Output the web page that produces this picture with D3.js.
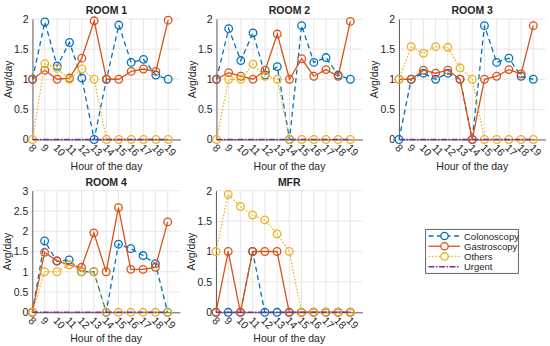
<!DOCTYPE html>
<html><head><meta charset="utf-8">
<script src="https://cdn.jsdelivr.net/npm/d3@7/dist/d3.min.js"></script>
<style>
body{margin:0;background:#fff;}
text{font-family:"Liberation Sans",Arial,Helvetica,sans-serif;fill:#262626;}
</style></head>
<body>
<svg id="chart" width="550" height="346"></svg>
<script>
const hours = [8,9,10,11,12,13,14,15,16,17,18,19];
const roomTitles = ["ROOM 1","ROOM 2","ROOM 3","ROOM 4","MFR"];
const seriesNames = ["Colonoscopy","Gastroscopy","Others","Urgent"];
const yMaxes = [2,2,2,3,2];

const colonoscopy = [
  [1.0,1.95,1.22,1.61,1.02,0.0,1.0,1.9,1.28,1.33,1.07,1.0],
  [1.0,1.84,1.31,1.77,1.07,1.21,0.0,1.89,1.28,1.36,1.07,1.0],
  [0.0,1.0,1.1,1.0,1.1,1.0,0.0,1.89,1.28,1.35,1.05,1.0],
  [0.0,1.76,1.26,1.29,1.0,1.0,0.0,1.68,1.57,1.4,1.2,0.0],
  [0.0,0.0,0.0,1.0,0.0,0.0,0.0,0.0,0.0,0.0,0.0,0.0]
];
const gastroscopy = [
  [1.0,1.15,1.0,1.02,1.35,1.97,1.0,1.0,1.13,1.17,1.13,1.98],
  [1.0,1.11,1.05,1.0,1.15,1.75,1.0,1.34,1.05,1.16,1.05,1.96],
  [1.0,1.0,1.15,1.1,1.15,1.0,0.0,1.0,1.05,1.16,1.09,1.89],
  [0.0,1.48,1.27,1.17,1.11,1.96,1.0,2.58,1.06,1.06,1.11,2.23],
  [0.0,1.0,0.0,1.0,1.0,1.0,0.0,0.0,0.0,0.0,0.0,0.0]
];
const others = [
  [0.0,1.26,1.18,1.0,1.17,1.0,0.0,0.0,0.0,0.0,0.0,0.0],
  [0.0,1.0,1.0,1.25,1.05,1.0,0.0,0.0,0.0,0.0,0.0,0.0],
  [1.0,1.54,1.43,1.54,1.53,1.19,1.0,0.0,0.0,0.0,0.0,0.0],
  [0.0,1.0,1.0,1.17,1.0,1.0,0.0,0.0,0.0,0.0,0.0,0.0],
  [1.0,1.94,1.74,1.6,1.52,1.29,1.0,0.0,0.0,0.0,0.0,0.0]
];
const urgent = [
  [0,0,0,0,0,0,0,0,0,0,0,0],
  [0,0,0,0,0,0,0,0,0,0,0,0],
  [0,0,0,0,0,0,0,0,0,0,0,0],
  [0,0,0,0,0,0,0,0,0,0,0,0],
  [0,0,0,0,0,0,0,0,0,0,0,0]
];

const colors = ["#0072BD","#D95319","#EDB120","#7E2F8E"];
const dashes = ["5,3.5",null,"1.5,1.8","6,1.5,1.5,1.5"];
const hasMarker = [true,true,true,false];

const panels = [
  {l:32.5,r:180.5,t:19,b:139.5},
  {l:216.5,r:362.5,t:19,b:139.5},
  {l:399,r:545.5,t:19,b:139.5},
  {l:32.3,r:180,t:190.7,b:312.3},
  {l:216,r:362.5,t:190.7,b:312.3}
];

const svg = d3.select("#chart");
const allSeries = [colonoscopy,gastroscopy,others,urgent];

panels.forEach((p,i)=>{
  const x = d3.scaleLinear().domain([8,20]).range([p.l,p.r]);
  const y = d3.scaleLinear().domain([0,yMaxes[i]]).range([p.b,p.t]);
  const yTicks = d3.range(0,yMaxes[i]+0.001,0.5);
  const g = svg.append("g");
  g.selectAll(".vg").data(hours).enter().append("line")
    .attr("x1",d=>x(d)).attr("x2",d=>x(d)).attr("y1",p.t).attr("y2",p.b)
    .attr("stroke","#dfdfdf").attr("stroke-width",0.8);
  g.selectAll(".hg").data(yTicks).enter().append("line")
    .attr("x1",p.l).attr("x2",p.r).attr("y1",d=>y(d)).attr("y2",d=>y(d))
    .attr("stroke","#dfdfdf").attr("stroke-width",0.8);
  const xAxis = d3.axisBottom(x).tickValues(hours).tickSize(0).tickPadding(0).tickFormat(d3.format("d"));
  const xa = g.append("g").attr("transform",`translate(0,${p.b})`).call(xAxis);
  xa.select(".domain").attr("stroke","#262626").attr("stroke-width",0.7);
  xa.selectAll("text").attr("text-anchor","start").attr("font-size","10.5px").attr("fill","#262626")
    .attr("dy",null).attr("y",0)
    .attr("transform","translate(-5,9) rotate(45)");
  const yAxis = d3.axisLeft(y).tickValues(yTicks).tickSize(0).tickPadding(4).tickFormat(d=>d3.format("")(d));
  const ya = g.append("g").attr("transform",`translate(${p.l},0)`).call(yAxis);
  ya.select(".domain").attr("stroke","#262626").attr("stroke-width",0.7);
  ya.selectAll("text").attr("font-size","10.5px").attr("fill","#262626");
  g.append("text").attr("x",(p.l+p.r)/2).attr("y",p.t-5).attr("text-anchor","middle")
    .attr("font-weight","bold").attr("font-size","10.5px").text(roomTitles[i]);
  g.append("text").attr("x",(p.l+p.r)/2).attr("y",p.b+30).attr("text-anchor","middle")
    .attr("font-size","10.5px").text("Hour of the day");
  g.append("text").attr("transform",`translate(${p.l-21},${(p.t+p.b)/2}) rotate(-90)`)
    .attr("text-anchor","middle").attr("font-size","10.5px").text("Avg/day");
  allSeries.forEach((s,k)=>{
    const vals = s[i];
    const pts = hours.map((h,j)=>[h,vals[j]]);
    const line = d3.line().x(d=>x(d[0])).y(d=>y(d[1]));
    g.append("path").attr("d",line(pts)).attr("fill","none")
      .attr("stroke",colors[k]).attr("stroke-width",k===3?1.6:1.3)
      .attr("stroke-dasharray",dashes[k]);
    if(hasMarker[k]){
      g.selectAll(null).data(pts).enter().append("circle")
        .attr("cx",d=>x(d[0])).attr("cy",d=>y(d[1])).attr("r",3.8)
        .attr("fill","none").attr("stroke",colors[k]).attr("stroke-width",1.3);
    }
  });
});

const lg = svg.append("g");
lg.append("rect").attr("x",425.7).attr("y",229.3).attr("width",92.6).attr("height",44)
  .attr("fill","#fff").attr("stroke","#262626").attr("stroke-width",0.7);
const legendY = d3.scalePoint().domain(seriesNames).range([236,266.7]);
seriesNames.forEach((n,k)=>{
  const yy = legendY(n);
  lg.append("line").attr("x1",428.5).attr("x2",460).attr("y1",yy).attr("y2",yy)
    .attr("stroke",colors[k]).attr("stroke-width",k===3?1.6:1.3).attr("stroke-dasharray",dashes[k]);
  if(hasMarker[k]) lg.append("circle").attr("cx",444.5).attr("cy",yy).attr("r",3.7)
    .attr("fill","#fff").attr("stroke",colors[k]).attr("stroke-width",1.3);
  lg.append("text").attr("x",464).attr("y",yy+3.5).attr("font-size","9.5px").text(n);
});
</script>
</body></html>
